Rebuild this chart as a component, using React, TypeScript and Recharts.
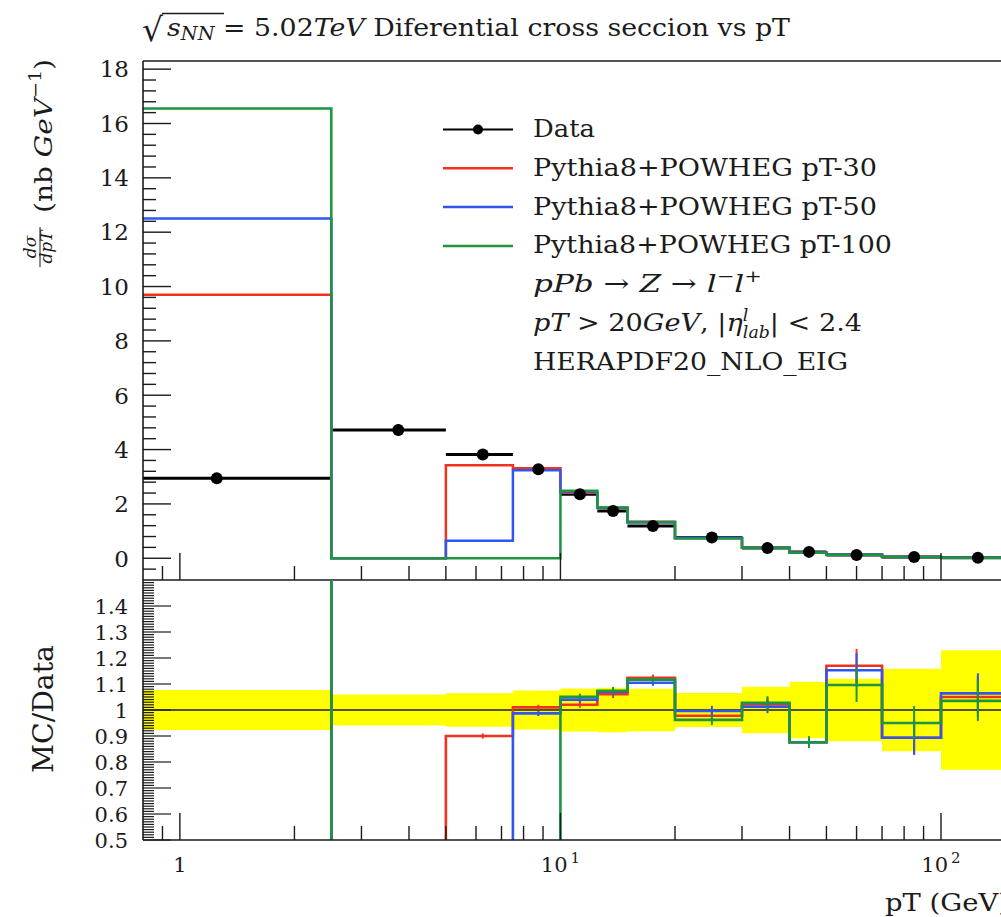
import {
  Area,
  ComposedChart,
  ErrorBar,
  Legend,
  Line,
  ReferenceLine,
  Scatter,
  XAxis,
  YAxis,
} from 'recharts';

const FONT = '"DejaVu Serif", serif';
const INK = '#1b1b1b';

// Z boson pT binning (GeV). The first bin starts at 0 and gets clipped to the log axis.
const PT_EDGES = [0, 2.5, 5, 7.5, 10, 12.5, 15, 20, 30, 40, 50, 70, 100, 150];

// measured dσ/dpT (nb/GeV) with its statistical error
const DATA_XS = [2.94, 4.72, 3.82, 3.28, 2.36, 1.74, 1.19, 0.76, 0.38, 0.235, 0.12, 0.05, 0.02];
const DATA_ERR = [0.2, 0.22, 0.2, 0.16, 0.12, 0.1, 0.07, 0.05, 0.03, 0.02, 0.012, 0.006, 0.004];
// relative data uncertainty, drawn as the band around 1 in the ratio pad
const DATA_REL_ERR = [0.077, 0.06, 0.064, 0.075, 0.083, 0.086, 0.082, 0.065, 0.089, 0.109, 0.12, 0.159, 0.23];

// Pythia8+POWHEG predictions for the three generator pT cuts
const PT30_XS = [9.7, 0, 3.42, 3.31, 2.41, 1.85, 1.34, 0.745, 0.39, 0.205, 0.14, 0.045, 0.021];
const PT50_XS = [12.5, 0, 0.64, 3.24, 2.45, 1.86, 1.32, 0.755, 0.385, 0.205, 0.138, 0.045, 0.0213];
const PT100_XS = [16.55, 0, 0, 0, 2.48, 1.87, 1.33, 0.73, 0.39, 0.205, 0.131, 0.0475, 0.0207];

// MC / Data per bin
const PT30_RATIO = [3.3, 0, 0.9, 1.01, 1.02, 1.061, 1.124, 0.978, 1.023, 0.876, 1.17, 0.893, 1.05];
const PT50_RATIO = [4.25, 0, 0.17, 0.987, 1.04, 1.07, 1.105, 0.996, 1.013, 0.876, 1.153, 0.893, 1.064];
const PT100_RATIO = [5.6, 0, 0, 0, 1.051, 1.074, 1.117, 0.962, 1.028, 0.876, 1.096, 0.95, 1.035];
const MC_RATIO_ERR = [0.02, 0.02, 0.01, 0.01, 0.012, 0.015, 0.012, 0.02, 0.025, 0.022, 0.065, 0.065, 0.077];

const MC_SERIES = [
  { key: 'pt30', name: 'Pythia8+POWHEG pT-30', color: '#f0321e', xs: PT30_XS, ratio: PT30_RATIO, width: 344 },
  { key: 'pt50', name: 'Pythia8+POWHEG pT-50', color: '#2f55f2', xs: PT50_XS, ratio: PT50_RATIO, width: 344 },
  { key: 'pt100', name: 'Pythia8+POWHEG pT-100', color: '#1c9540', xs: PT100_XS, ratio: PT100_RATIO, width: 359 },
];

const X_DOMAIN: [number, number] = [0.8, 150];
const SPECTRUM_DOMAIN: [number, number] = [-0.8, 18.3];
const RATIO_DOMAIN: [number, number] = [0.5, 1.5];

const X_TICKS = [0.9, 1, 2, 3, 4, 5, 6, 7, 8, 9, 10, 20, 30, 40, 50, 60, 70, 80, 90, 100];
const SPECTRUM_MAJOR = [0, 2, 4, 6, 8, 10, 12, 14, 16, 18];
const RATIO_MAJOR = [0.5, 0.6, 0.7, 0.8, 0.9, 1, 1.1, 1.2, 1.3, 1.4];
const SPECTRUM_TICKS = Array.from({ length: 47 }, (_, k) => Math.round((k - 1) * 4) / 10);
const RATIO_TICKS = Array.from({ length: 100 }, (_, k) => (50 + k) / 100);

// pad geometry (axes are 1px wide, the rest is margin)
const CHART_W = 1100;
const PLOT_LEFT = 143;
const PLOT_RIGHT = 1008;
const SPECTRUM_TOP = 61;
const PAD_SPLIT = 580;
const RATIO_BOTTOM = 840;
const RATIO_OFFSET = 560;
const RATIO_H = 357;

const N_BINS = PT_EDGES.length - 1;
const lowEdge = (i: number) => Math.max(PT_EDGES[i], X_DOMAIN[0]);
const binCenter = (i: number) => (PT_EDGES[i] + PT_EDGES[i + 1]) / 2;
const binOf = (edge: number) => Math.min(edge, N_BINS - 1);

// one row per bin edge, so stepAfter holds each bin value across the bin
const spectrumRows = PT_EDGES.map((_, i) => {
  const row: Record<string, number> = { pt: lowEdge(i) };
  MC_SERIES.forEach((s) => {
    row[s.key] = s.xs[binOf(i)];
  });
  return row;
});

const ratioRows = PT_EDGES.map((_, i) => {
  const b = binOf(i);
  const row: Record<string, number | number[]> = {
    pt: lowEdge(i),
    band: [1 - DATA_REL_ERR[b], 1 + DATA_REL_ERR[b]],
  };
  MC_SERIES.forEach((s) => {
    row[s.key] = s.ratio[b];
  });
  return row;
});

const dataPoints = DATA_XS.map((v, i) => ({
  pt: binCenter(i),
  xs: v,
  errY: DATA_ERR[i],
  errX: [binCenter(i) - lowEdge(i), PT_EDGES[i + 1] - binCenter(i)],
}));

const ratioErrPoints = (ratio: number[]) =>
  ratio
    .map((r, i) => ({ pt: binCenter(i), r, err: MC_RATIO_ERR[i] }))
    .filter((p) => p.r > RATIO_DOMAIN[0] && p.r < RATIO_DOMAIN[1]);

type TickProps = { x?: number; y?: number; payload?: { value: number } };

function PtTick({ x = 0, y = 0, payload, labelled }: TickProps & { labelled: boolean }) {
  const v = payload?.value ?? 1;
  const decade = Math.round(Math.log10(v));
  const major = Math.abs(Math.log10(v) - decade) < 1e-6;
  return (
    <g>
      <line x1={x} x2={x} y1={y} y2={y - (major ? 27 : 14)} stroke={INK} strokeWidth={1.4} />
      {labelled && major && (
        <text x={x} y={y + 32} textAnchor="middle" fontFamily={FONT} fontSize={21} fill={INK}>
          {decade === 0 ? (
            '1'
          ) : (
            <>
              10
              <tspan dy={-9} dx={3} fontSize={15}>
                {decade}
              </tspan>
            </>
          )}
        </text>
      )}
    </g>
  );
}

function SpectrumTick({ x = 0, y = 0, payload }: TickProps) {
  const v = payload?.value ?? 0;
  const major = SPECTRUM_MAJOR.includes(v);
  return (
    <g>
      <line x1={x} x2={x + (major ? 28 : 13)} y1={y} y2={y} stroke={INK} strokeWidth={1.4} />
      {major && (
        <text x={x - 14} y={y} dy="0.36em" textAnchor="end" fontFamily={FONT} fontSize={23} fill={INK}>
          {v}
        </text>
      )}
    </g>
  );
}

function RatioTick({ x = 0, y = 0, payload }: TickProps) {
  const v = payload?.value ?? 1;
  const major = RATIO_MAJOR.some((m) => Math.abs(m - v) < 1e-6);
  return (
    <g>
      <line x1={x} x2={x + (major ? 28 : 11)} y1={y} y2={y} stroke={INK} strokeWidth={1.2} />
      {major && (
        <text x={x - 15} y={y} dy="0.36em" textAnchor="end" fontFamily={FONT} fontSize={21} fill={INK}>
          {Math.abs(v - 1) < 1e-6 ? '1' : v.toFixed(1)}
        </text>
      )}
    </g>
  );
}

function DataMarker(props: { cx?: number; cy?: number }) {
  return <circle cx={props.cx} cy={props.cy} r={6} fill="#000" />;
}

const LEGEND_LEFT = 430;
const LEGEND_TOP = 100;
const rowBase = (row: number) => 37 + row * 38.8;

function SpectrumLegend() {
  const textProps = { x: 103, fontFamily: FONT, fontSize: 25, fill: INK, lengthAdjust: 'spacingAndGlyphs' as const };
  return (
    <svg width={470} height={285}>
      <line x1={13} x2={83} y1={rowBase(0) - 7.5} y2={rowBase(0) - 7.5} stroke="#000" strokeWidth={2} />
      <circle cx={48} cy={rowBase(0) - 7.5} r={5} fill="#000" />
      <text {...textProps} y={rowBase(0)} textLength={62}>
        Data
      </text>
      {MC_SERIES.map((s, i) => (
        <g key={s.key}>
          <line x1={13} x2={83} y1={rowBase(i + 1) - 7.5} y2={rowBase(i + 1) - 7.5} stroke={s.color} strokeWidth={2.5} />
          <text {...textProps} y={rowBase(i + 1)} textLength={s.width}>
            {s.name}
          </text>
        </g>
      ))}
      <text {...textProps} y={rowBase(4)} textLength={229}>
        <tspan fontStyle="italic">pPb</tspan> → <tspan fontStyle="italic">Z</tspan> → <tspan fontStyle="italic">l</tspan>
        <tspan dy={-10} fontSize={17}>−</tspan>
        <tspan dy={10} fontStyle="italic">l</tspan>
        <tspan dy={-10} fontSize={17}>+</tspan>
      </text>
      <text {...textProps} y={rowBase(5)} textLength={329}>
        <tspan fontStyle="italic">pT</tspan> &gt; 20<tspan fontStyle="italic">GeV</tspan>, |<tspan fontStyle="italic">η</tspan>
        <tspan dy={-10} fontSize={16} fontStyle="italic">l</tspan>
        <tspan dy={17} dx={-5} fontSize={16} fontStyle="italic">lab</tspan>
        <tspan dy={-7}>| &lt; 2.4</tspan>
      </text>
      <text {...textProps} y={rowBase(6)} textLength={315}>
        HERAPDF20_NLO_EIG
      </text>
    </svg>
  );
}

function Annotations() {
  return (
    <svg width={1001} height={917} style={{ position: 'absolute', left: 0, top: 0, pointerEvents: 'none' }}>
      <g fontFamily={FONT} fill={INK}>
        {/* pad title */}
        <text x={142} y={41} fontSize={33}>
          √
        </text>
        <line x1={162} x2={224} y1={13.5} y2={13.5} stroke={INK} strokeWidth={1.4} />
        <text x={167} y={36} fontSize={25} textLength={623} lengthAdjust="spacingAndGlyphs">
          <tspan fontStyle="italic">s</tspan>
          <tspan dy={4} fontSize={18} fontStyle="italic">
            NN
          </tspan>
          <tspan dy={-4}> = 5.02</tspan>
          <tspan fontStyle="italic">TeV</tspan> Diferential cross seccion vs pT
        </text>

        {/* y title of the spectrum pad */}
        <g transform="translate(52 267) rotate(-90)">
          <text x={20} y={-16} textAnchor="middle" fontSize={17} fontStyle="italic">
            dσ
          </text>
          <line x1={0} x2={40} y1={-12} y2={-12} stroke={INK} strokeWidth={1} />
          <text x={20} y={0} textAnchor="middle" fontSize={17} fontStyle="italic">
            dpT
          </text>
          <text x={54} y={0} fontSize={25} textLength={154} lengthAdjust="spacingAndGlyphs">
            (nb <tspan fontStyle="italic">GeV</tspan>
            <tspan dy={-11} fontSize={17}>
              −1
            </tspan>
            <tspan dy={11}>)</tspan>
          </text>
        </g>

        {/* y title of the ratio pad */}
        <text transform="translate(53 773) rotate(-90)" x={0} y={0} fontSize={28} textLength={128} lengthAdjust="spacingAndGlyphs">
          MC/Data
        </text>

        {/* shared x title */}
        <text x={885} y={911} fontSize={24} textLength={124} lengthAdjust="spacingAndGlyphs">
          pT (GeV)
        </text>
      </g>
    </svg>
  );
}

export default function App() {
  return (
    <div
      style={{
        position: 'absolute',
        left: 0,
        top: 0,
        width: 1001,
        height: 917,
        overflow: 'hidden',
        background: '#fff',
        fontFamily: FONT,
      }}
    >
      <div style={{ position: 'absolute', left: 0, top: 0 }}>
        <ComposedChart
          width={CHART_W}
          height={PAD_SPLIT + 4}
          data={spectrumRows}
          margin={{ top: SPECTRUM_TOP, right: CHART_W - PLOT_RIGHT, bottom: 3, left: PLOT_LEFT - 1 }}
        >
          <XAxis
            dataKey="pt"
            type="number"
            scale="log"
            domain={X_DOMAIN}
            allowDataOverflow
            ticks={X_TICKS}
            interval={0}
            height={1}
            tickSize={0}
            tickMargin={0}
            tickLine={false}
            tick={(p: TickProps) => <PtTick {...p} labelled={false} />}
            axisLine={{ stroke: INK, strokeWidth: 1.6 }}
          />
          <YAxis
            type="number"
            domain={SPECTRUM_DOMAIN}
            allowDataOverflow
            ticks={SPECTRUM_TICKS}
            interval={0}
            width={1}
            tickSize={0}
            tickMargin={0}
            tickLine={false}
            tick={(p: TickProps) => <SpectrumTick {...p} />}
            axisLine={{ stroke: INK, strokeWidth: 1.6 }}
          />
          <ReferenceLine y={SPECTRUM_DOMAIN[1]} stroke={INK} strokeWidth={1.6} />
          <Scatter name="Data" data={dataPoints} dataKey="xs" shape={DataMarker} isAnimationActive={false}>
            <ErrorBar dataKey="errX" direction="x" width={0} stroke="#000" strokeWidth={3} />
            <ErrorBar dataKey="errY" direction="y" width={0} stroke="#000" strokeWidth={2} />
          </Scatter>
          {MC_SERIES.map((s) => (
            <Line
              key={s.key}
              type="stepAfter"
              dataKey={s.key}
              name={s.name}
              stroke={s.color}
              strokeWidth={2.5}
              dot={false}
              activeDot={false}
              isAnimationActive={false}
            />
          ))}
          <Legend
            layout="horizontal"
            verticalAlign="middle"
            align="center"
            content={() => <SpectrumLegend />}
            wrapperStyle={{ left: LEGEND_LEFT, top: LEGEND_TOP, width: 470, height: 285 }}
          />
        </ComposedChart>
      </div>

      <div style={{ position: 'absolute', left: 0, top: RATIO_OFFSET }}>
        <ComposedChart
          width={CHART_W}
          height={RATIO_H}
          data={ratioRows}
          margin={{
            top: PAD_SPLIT - RATIO_OFFSET,
            right: CHART_W - PLOT_RIGHT,
            bottom: RATIO_H - (RATIO_BOTTOM - RATIO_OFFSET) - 1,
            left: PLOT_LEFT - 1,
          }}
        >
          <XAxis
            dataKey="pt"
            type="number"
            scale="log"
            domain={X_DOMAIN}
            allowDataOverflow
            ticks={X_TICKS}
            interval={0}
            height={1}
            tickSize={0}
            tickMargin={0}
            tickLine={false}
            tick={(p: TickProps) => <PtTick {...p} labelled />}
            axisLine={{ stroke: INK, strokeWidth: 1.6 }}
          />
          <YAxis
            type="number"
            domain={RATIO_DOMAIN}
            allowDataOverflow
            ticks={RATIO_TICKS}
            interval={0}
            width={1}
            tickSize={0}
            tickMargin={0}
            tickLine={false}
            tick={(p: TickProps) => <RatioTick {...p} />}
            axisLine={{ stroke: INK, strokeWidth: 1.6 }}
          />
          <Area
            type="stepAfter"
            dataKey="band"
            stroke="none"
            fill="#ffff00"
            fillOpacity={1}
            activeDot={false}
            isAnimationActive={false}
          />
          <ReferenceLine y={1} stroke={INK} strokeWidth={1.5} />
          {MC_SERIES.map((s) => (
            <Line
              key={s.key}
              type="stepAfter"
              dataKey={s.key}
              stroke={s.color}
              strokeWidth={2.6}
              dot={false}
              activeDot={false}
              isAnimationActive={false}
            />
          ))}
          {MC_SERIES.map((s) => (
            <Scatter
              key={`${s.key}-err`}
              data={ratioErrPoints(s.ratio)}
              dataKey="r"
              shape={() => <g />}
              isAnimationActive={false}
            >
              <ErrorBar dataKey="err" direction="y" width={0} stroke={s.color} strokeWidth={2} />
            </Scatter>
          ))}
        </ComposedChart>
      </div>

      <Annotations />
    </div>
  );
}
